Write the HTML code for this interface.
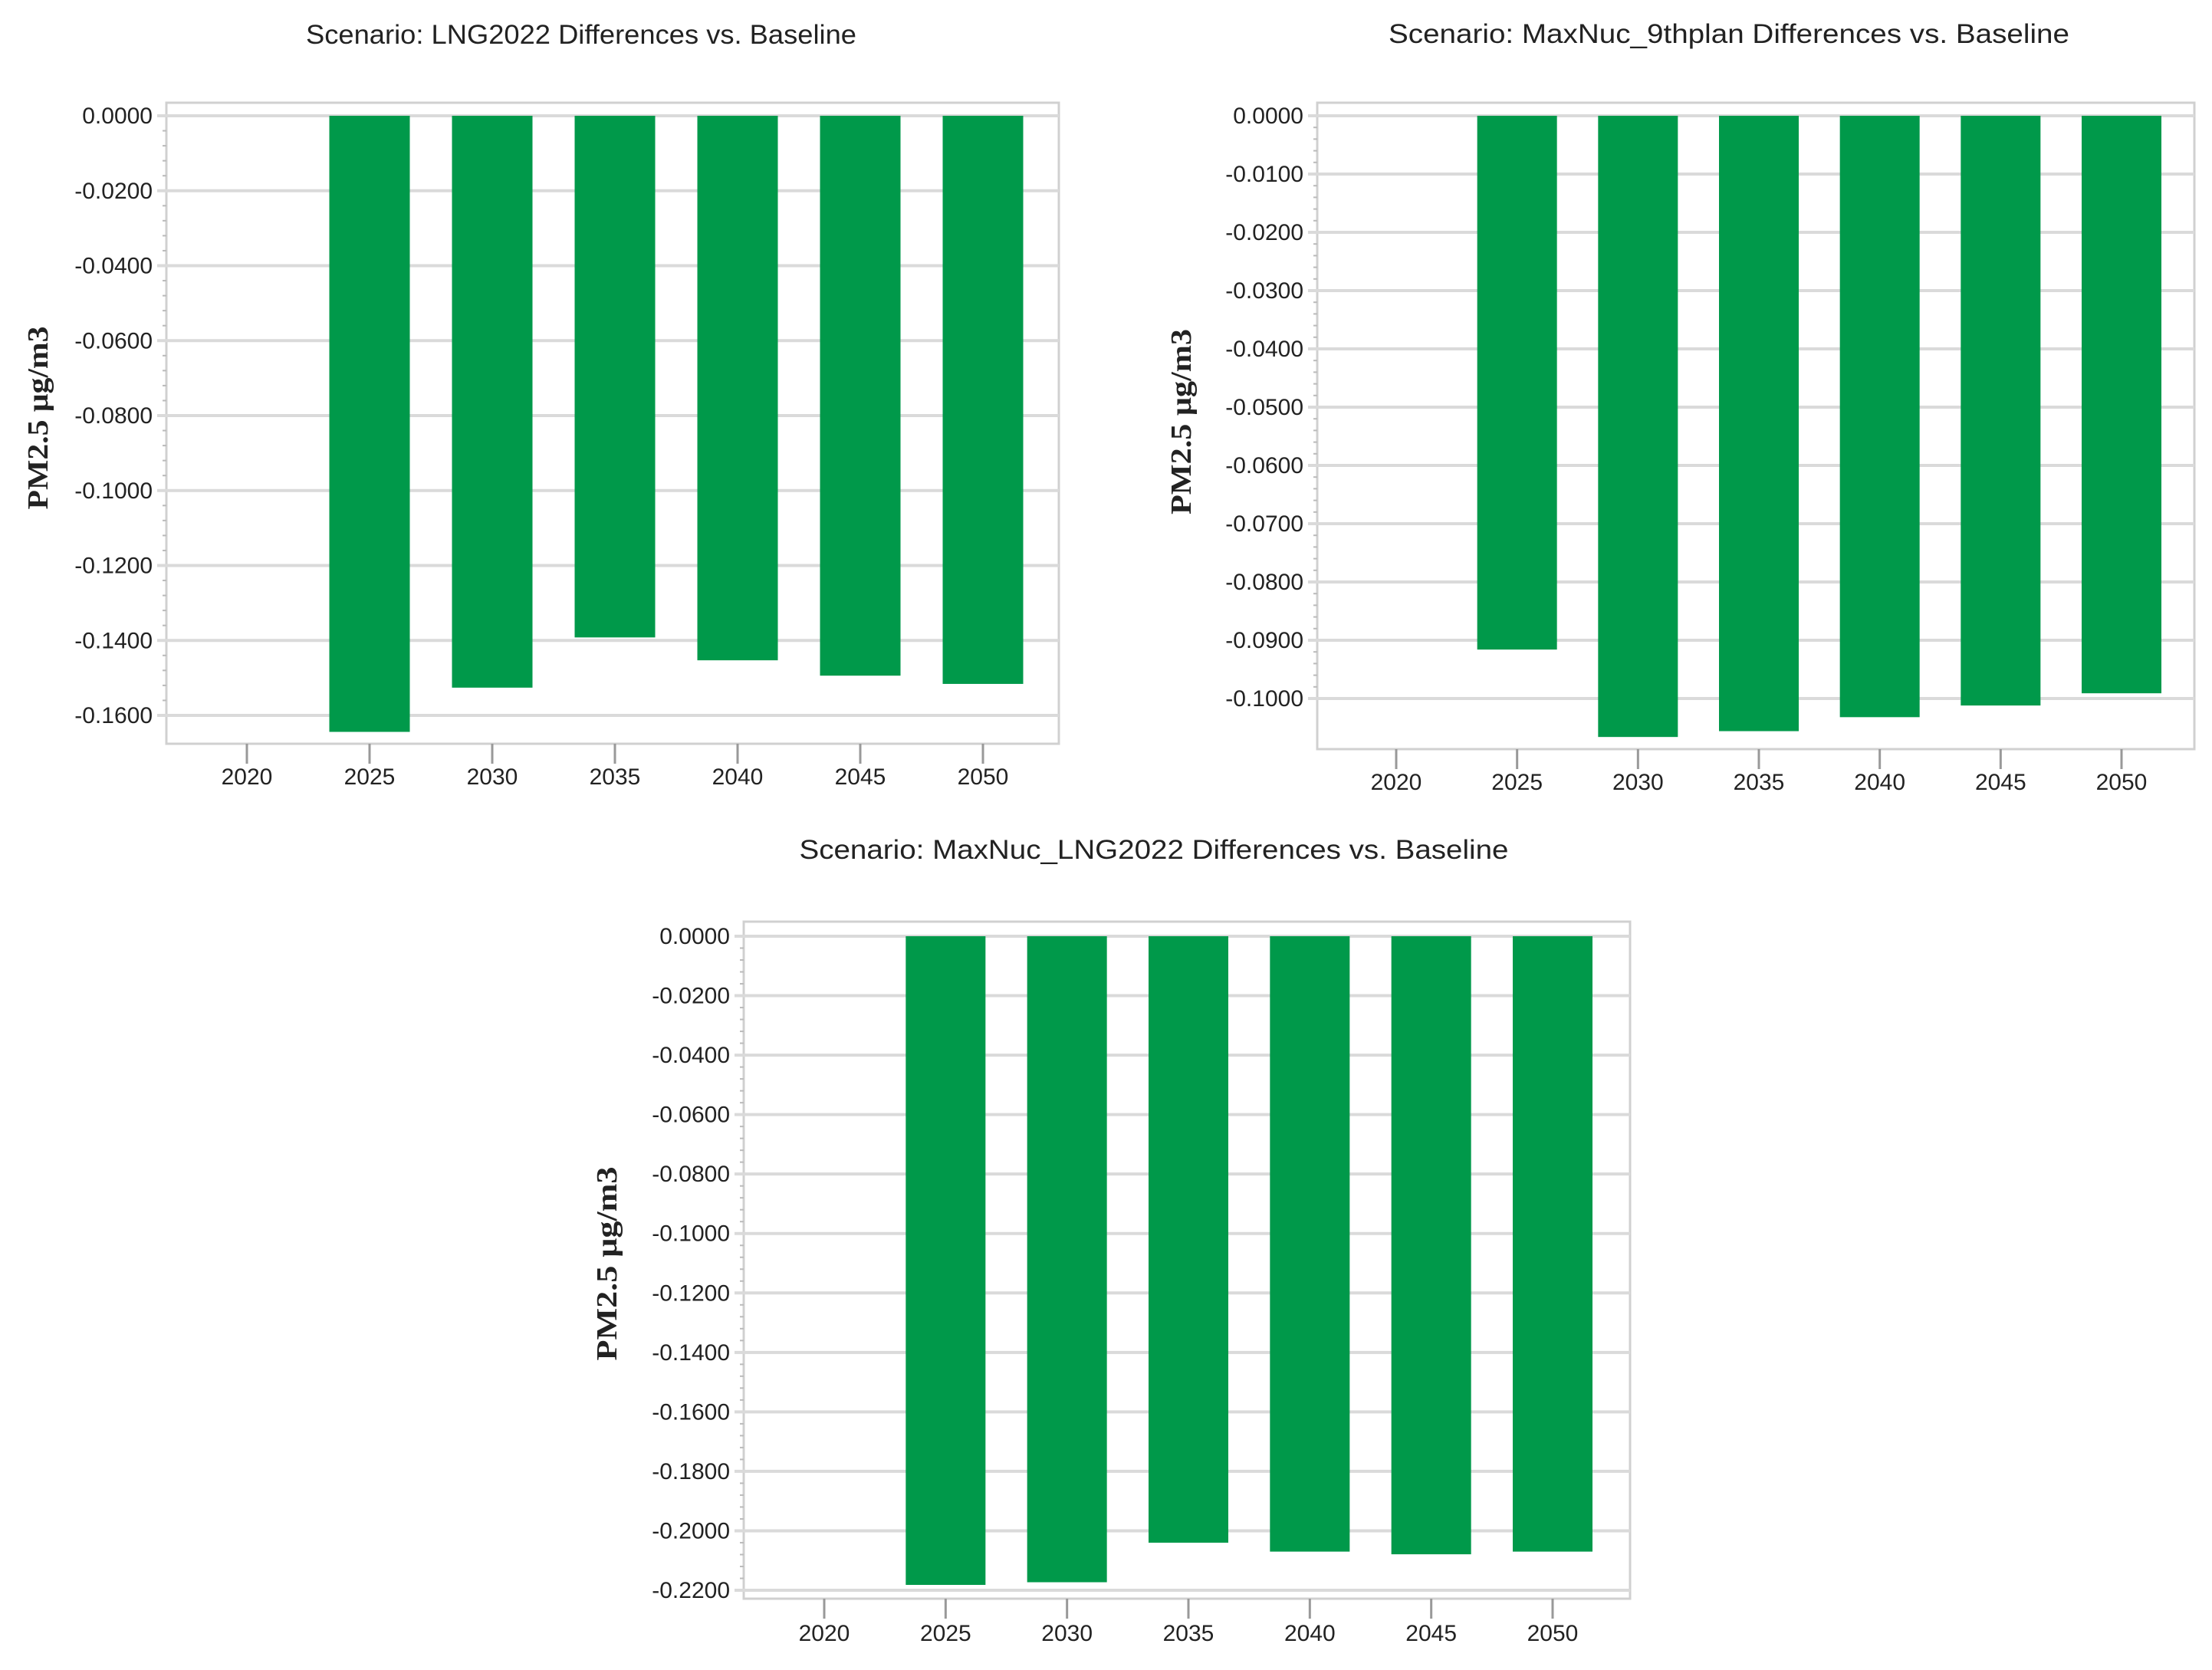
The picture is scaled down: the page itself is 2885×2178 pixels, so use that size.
<!DOCTYPE html>
<html><head><meta charset="utf-8"><style>
html,body{margin:0;padding:0;background:#fff;}
svg{display:block;}
text{font-family:"Liberation Sans",sans-serif;fill:#222;}
</style></head><body>
<svg id="c" width="2885" height="2178" viewBox="0 0 2885 2178"></svg>
<script>
const categories = [2020, 2025, 2030, 2035, 2040, 2045, 2050];
const lngValues = [null, -0.1644, -0.1526, -0.1392, -0.1453, -0.1494, -0.1516];
const nuc9Values = [null, -0.0916, -0.1066, -0.1056, -0.1032, -0.1012, -0.0991];
const nucLngValues = [null, -0.2182, -0.2173, -0.2040, -0.2070, -0.2079, -0.2070];
const lngTicks = [0, -0.02, -0.04, -0.06, -0.08, -0.10, -0.12, -0.14, -0.16];
const nuc9Ticks = [0, -0.01, -0.02, -0.03, -0.04, -0.05, -0.06, -0.07, -0.08, -0.09, -0.10];
const nucLngTicks = [0, -0.02, -0.04, -0.06, -0.08, -0.10, -0.12, -0.14, -0.16, -0.18, -0.20, -0.22];
const titles = ["Scenario: LNG2022 Differences vs. Baseline","Scenario: MaxNuc_9thplan Differences vs. Baseline","Scenario: MaxNuc_LNG2022 Differences vs. Baseline"];

const NS="http://www.w3.org/2000/svg";
const svg=document.getElementById('c');
function mk(tag,attrs,parent){const e=document.createElementNS(NS,tag);for(const k in attrs)e.setAttribute(k,attrs[k]);(parent||svg).appendChild(e);return e;}

function drawChart(cfg, values, ticks, title, id){
  const g=mk('g',{});
  
  
  const y=v=>cfg.zeroY+(v-0)/(cfg.refV)*(cfg.refY-cfg.zeroY);
  const x=c=>cfg.x0+(c-categories[0])/(categories[categories.length-1]-categories[0])*(cfg.x1-cfg.x0);
  const fr=mk('rect',{x:cfg.L,y:cfg.T,width:cfg.R-cfg.L,height:cfg.B-cfg.T,fill:'none',stroke:'#d0d0d0','stroke-width':3},g);
  
  
  for(let i=0;i<ticks.length-1;i++){
    for(let k=1;k<5;k++){
      const v=ticks[i]+(ticks[i+1]-ticks[i])*k/5;
      mk('line',{x1:cfg.L-5,x2:cfg.L,y1:y(v),y2:y(v),stroke:'#bbb','stroke-width':2},g);
    }
  }
  ticks.forEach(t=>{
    const gl=mk('line',{x1:cfg.L-12,x2:cfg.R,y1:y(t),y2:y(t),stroke:'#dadada','stroke-width':4},g);
    
    
    const tl=mk('text',{x:cfg.L-18,y:y(t)+10,'text-anchor':'end','font-size':30},g);
    tl.textContent=t.toFixed(4).replace('-0.0000','0.0000');
    
    
  });
  categories.forEach((c,i)=>{
    mk('line',{x1:x(c),x2:x(c),y1:cfg.B,y2:cfg.B+26,stroke:'#999','stroke-width':3},g);
    const xl=mk('text',{x:x(c),y:cfg.xLabY+10,'text-anchor':'middle','font-size':30},g);
    xl.textContent=c;
    
    
    const v=values[i];
    if(v!==null){
      const b=mk('rect',{x:x(c)-cfg.bw/2,y:y(0),width:cfg.bw,height:y(v)-y(0),fill:'#00994a'},g);
      
      
    }
  });
  const tt=mk('text',{x:cfg.titleX,y:cfg.titleY+12,'text-anchor':'middle','font-size':35,textLength:cfg.titleW,lengthAdjust:'spacingAndGlyphs'},g);
  tt.textContent=title;
  
  
  const yl=mk('text',{x:0,y:0,'text-anchor':'middle','font-size':38,'font-weight':'bold',style:'font-family:"Liberation Serif",serif',textLength:cfg.ylW,lengthAdjust:'spacingAndGlyphs',transform:`translate(${cfg.ylX+13},${cfg.ylY}) rotate(-90)`},g);
  yl.textContent='PM2.5 μg/m3';
  
  
}

drawChart({L:217,T:134,R:1381,B:970,zeroY:151,refV:-0.16,refY:933,x0:322,x1:1282,bw:105,xLabY:1013,titleX:758,titleY:45,titleW:718,ylX:49,ylY:545,ylW:239},
  lngValues,lngTicks,titles[0],'lng2022');
drawChart({L:1718,T:134,R:2862,B:977,zeroY:151,refV:-0.10,refY:911,x0:1821,x1:2767,bw:104,xLabY:1020,titleX:2255,titleY:44,titleW:888,ylX:1540,ylY:550,ylW:242},
  nuc9Values,nuc9Ticks,titles[1],'maxnuc-9thplan');
drawChart({L:970,T:1202,R:2126,B:2085,zeroY:1221,refV:-0.22,refY:2074,x0:1075,x1:2025,bw:104,xLabY:2130,titleX:1505,titleY:1108,titleW:925,ylX:791,ylY:1648,ylW:253},
  nucLngValues,nucLngTicks,titles[2],'maxnuc-lng2022');
</script>
</body></html>
